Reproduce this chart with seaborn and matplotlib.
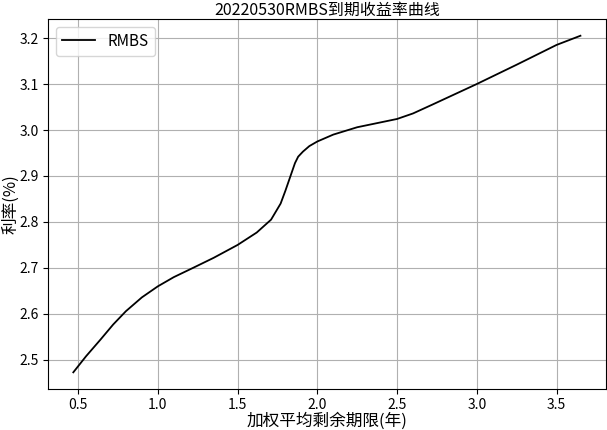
import numpy as np
import pandas as pd
import matplotlib
matplotlib.use('Agg')
import matplotlib.pyplot as plt
import seaborn as sns

# values
term = [0.47, 0.55, 0.64, 0.72, 0.80, 0.90, 1.00, 1.10, 1.22, 1.35, 1.50, 1.62, 1.71,
        1.77, 1.80, 1.83, 1.86, 1.88, 1.91, 1.95, 2.00, 2.10, 2.25, 2.50, 2.60, 2.72,
        3.00, 3.25, 3.50, 3.65]
rate = [2.473, 2.508, 2.544, 2.577, 2.606, 2.636, 2.660, 2.680, 2.700, 2.722, 2.750, 2.777, 2.805,
        2.840, 2.868, 2.898, 2.928, 2.942, 2.953, 2.965, 2.975, 2.990, 3.006, 3.024, 3.036, 3.055,
        3.100, 3.142, 3.185, 3.205]
series_name = 'RMBS'

df = pd.DataFrame({'term': term, 'rate': rate})

plt.rcParams['font.family'] = ['Noto Sans CJK SC', 'DejaVu Sans']
plt.rcParams['axes.unicode_minus'] = False

fig = plt.figure(figsize=(6.07, 4.30), dpi=100)
ax = fig.add_axes([0.079, 0.095, 0.919, 0.861])
sns.lineplot(data=df, x='term', y='rate', color='black', linewidth=1.3,
             label=series_name, ax=ax)
ax.grid(True, color='#b0b0b0', linewidth=0.8)
ax.set_axisbelow(True)
ax.set_title('20220530RMBS到期收益率曲线', fontsize=11.5, pad=3)
ax.set_xlabel('加权平均剩余期限(年)', fontsize=12, labelpad=0)
ax.set_ylabel('利率(%)', fontsize=12, labelpad=0)
ax.tick_params(labelsize=10, pad=3)
ax.legend(loc='upper left', fontsize=11, handlelength=2.2)

fig.savefig('out.png', dpi=100)
